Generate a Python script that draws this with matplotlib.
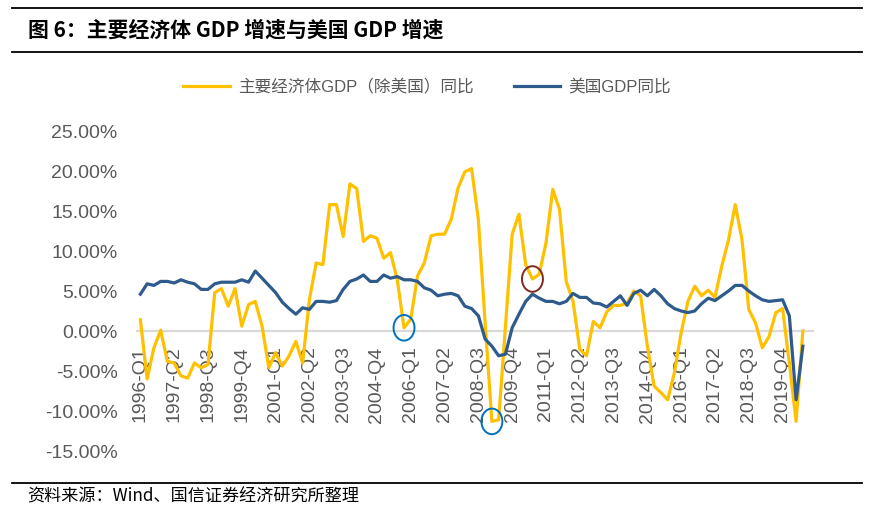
import matplotlib
matplotlib.use("Agg")
import matplotlib.pyplot as plt
from matplotlib.lines import Line2D
from matplotlib.patches import Ellipse
from matplotlib.ticker import FuncFormatter, FixedLocator
import numpy as np

plt.rcParams['font.family'] = ['Liberation Sans', 'Noto Sans CJK SC', 'DejaVu Sans']

# quarters 1996-Q1 .. 2020-Q4 (last one has no data)
quarters = [f"{y}-Q{q}" for y in range(1996, 2021) for q in range(1, 5)]

# major economies GDP yoy (ex US), %
others = [1.4, -6.0, -2.1, 0.1, -3.8, -4.0, -5.6, -5.9, -4.0, -4.6,
          -4.2, 4.8, 5.3, 3.1, 5.3, 0.6, 3.3, 3.7, 0.6, -4.6,
          -2.7, -4.4, -3.1, -1.3, -4.0, 3.9, 8.5, 8.3, 15.8, 15.8,
          11.8, 18.4, 17.8, 11.2, 11.9, 11.6, 9.1, 9.8, 6.4, 0.4,
          1.5, 6.9, 8.5, 11.9, 12.1, 12.1, 14.0, 17.9, 19.9, 20.3,
          13.9, 1.0, -11.3, -11.1, 0.5, 12.1, 14.6, 8.3, 6.5, 7.1,
          11.0, 17.7, 15.2, 6.2, 3.7, -2.3, -3.1, 1.2, 0.4, 2.4,
          3.2, 3.2, 3.5, 5.0, 4.4, -1.9, -6.9, -7.7, -8.6, -5.2,
          -0.2, 3.7, 5.6, 4.4, 5.1, 4.2, 8.1, 11.4, 15.8, 11.4,
          2.7, 1.0, -2.1, -0.7, 2.3, 2.8, -4.0, -11.3, 0.0]

# US GDP yoy, %
us = [4.6, 5.9, 5.7, 6.2, 6.2, 6.0, 6.4, 6.1, 5.9, 5.2,
      5.2, 5.9, 6.1, 6.1, 6.1, 6.4, 6.1, 7.5, 6.6, 5.7,
      4.8, 3.6, 2.8, 2.1, 2.9, 2.7, 3.7, 3.7, 3.6, 3.8,
      5.2, 6.2, 6.5, 7.0, 6.2, 6.2, 7.0, 6.6, 6.8, 6.4,
      6.4, 6.2, 5.4, 5.1, 4.4, 4.6, 4.7, 4.4, 3.1, 2.8,
      1.9, -1.0, -1.9, -3.1, -2.9, 0.4, 2.1, 3.7, 4.6, 4.1,
      3.7, 3.7, 3.4, 3.7, 4.7, 4.2, 4.2, 3.5, 3.4, 3.0,
      3.7, 4.4, 3.2, 4.7, 5.1, 4.4, 5.2, 4.4, 3.4, 2.8,
      2.5, 2.3, 2.5, 3.4, 4.1, 3.8, 4.4, 5.0, 5.7, 5.7,
      5.0, 4.4, 3.9, 3.7, 3.8, 3.9, 1.9, -8.6, -1.9]

# quarters circled on the chart (index into quarters)
marked_blue = [39, 52]
marked_red = [58]

fig = plt.figure(figsize=(8.85, 5.15), dpi=100)
ax = fig.add_axes([137 / 885, 1 - 451 / 515, 676 / 885, 320 / 515])

# zero line as the category axis (set before styling ticks, it resets them)
for s in ['top', 'right', 'left']:
    ax.spines[s].set_visible(False)
ax.spines['bottom'].set_position(('data', 0))
ax.spines['bottom'].set_color('#D9D9D9')
ax.spines['bottom'].set_linewidth(1.6)
ax.spines['bottom'].set_zorder(1)

x = np.arange(len(quarters))
ax.plot(x[:len(others)], others, color='#FFC000', lw=2.3, zorder=3,
        label='主要经济体GDP（除美国）同比', solid_joinstyle='round')
ax.plot(x[:len(us)], us, color='#2F5B8C', lw=2.3, zorder=4,
        label='美国GDP同比', solid_joinstyle='round')

for i in marked_blue:
    ax.add_patch(Ellipse((i, others[i]), 3.1, 3.2, fill=False,
                         edgecolor='#0070C0', lw=1.4, zorder=5))
for i in marked_red:
    ax.add_patch(Ellipse((i, others[i]), 3.1, 3.2, fill=False,
                         edgecolor='#7F2A1E', lw=1.4, zorder=5))

ax.set_xlim(-0.5, len(quarters) - 0.5)
ax.set_ylim(-15, 25)
ax.yaxis.set_major_locator(FixedLocator(np.arange(-15, 26, 5)))
ax.yaxis.set_major_formatter(FuncFormatter(lambda v, p: f"{v:.2f}%"))
ax.set_xticks(x[::5])
ax.set_xticklabels(quarters[::5])

ax.tick_params(axis='x', length=0, pad=11, labelsize=14, labelcolor='#595959',
               labelrotation=90)
ax.tick_params(axis='y', length=0, pad=14, labelsize=14, labelcolor='#595959')

fig.legend(loc='center', bbox_to_anchor=(427 / 885, 1 - 87 / 515), ncol=2,
           frameon=False, fontsize=12, handlelength=2.8, handletextpad=0.5,
           columnspacing=2.4, labelcolor='#595959')

# header / footer
for yy in [7.5, 52, 483]:
    fig.add_artist(Line2D([12 / 885, 862 / 885], [1 - yy / 515] * 2,
                          color='black', lw=1.3))
fig.text(28 / 885, 1 - 30 / 515, '图 6：主要经济体 GDP 增速与美国 GDP 增速',
         family=['Noto Sans CJK SC', 'DejaVu Sans'], fontweight='bold',
         fontsize=15, va='center', ha='left')
fig.text(27 / 885, 1 - 496 / 515, '资料来源：Wind、国信证券经济研究所整理',
         family=['Noto Sans CJK SC', 'DejaVu Sans'], fontsize=12.3,
         va='center', ha='left')

fig.savefig('out.png', dpi=100)
